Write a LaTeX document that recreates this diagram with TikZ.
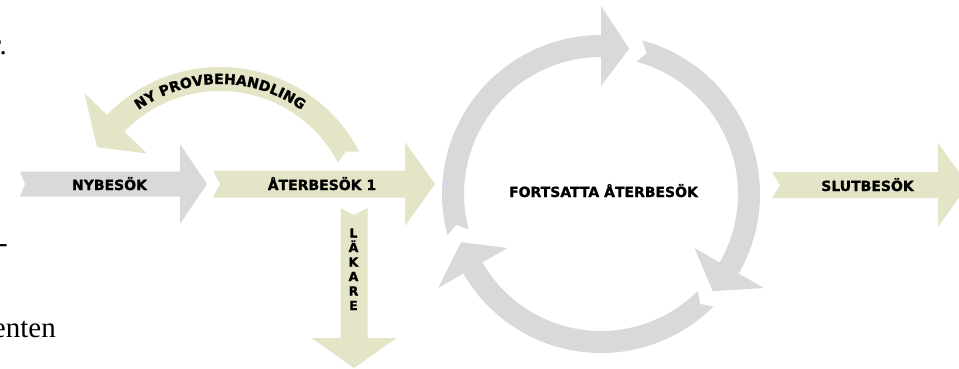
\documentclass[tikz,border=0pt]{standalone}
\usepackage{fontspec}
\setmainfont{Liberation Serif}
\newfontfamily\lblfont{DejaVu Sans}[BoldFeatures={FakeBold=1.3}]
\usetikzlibrary{decorations.text}
\definecolor{beige}{RGB}{228,228,199}
\definecolor{lgray}{RGB}{217,217,217}
% horizontal block arrow: x0 xnotch xheadbase xtip yc bodyhalf headhalf style
\newcommand{\hblock}[8]{\fill[#8] (#1,{#5-#6}) -- (#3,{#5-#6}) -- (#3,{#5-#7}) -- (#4,#5) -- (#3,{#5+#7}) -- (#3,{#5+#6}) -- (#1,{#5+#6}) -- (#2,#5) -- cycle;}
% vertical block arrow: y0 ynotch yheadbase ytip xc bodyhalf headhalf style
\newcommand{\vblock}[8]{\fill[#8] ({#5-#6},#1) -- ({#5-#6},#3) -- ({#5-#7},#3) -- (#5,#4) -- ({#5+#7},#3) -- ({#5+#6},#3) -- ({#5+#6},#1) -- (#5,#2) -- cycle;}
\begin{document}
\begin{tikzpicture}[x=1pt,y=-1pt,
  lbl/.style={font=\lblfont\bfseries\fontsize{14}{16}\selectfont, inner sep=0pt, anchor=base},
  smalllbl/.style={font=\lblfont\bfseries\fontsize{12.5}{14}\selectfont, inner sep=0pt, anchor=base},
  pagetext/.style={font=\fontsize{29}{32}\selectfont, inner sep=0pt, anchor=base east}]
\useasboundingbox (0,0) rectangle (959,369);
\clip (0,0) rectangle (959,369);
\fill[white] (0,0) rectangle (959,369);

% straight arrows
\hblock{20}{25}{180}{207}{184}{12.5}{40}{lgray}
\hblock{213}{220}{405}{435}{184}{13.5}{42}{beige}
\hblock{772}{780}{938}{968}{185}{13}{42}{beige}
\vblock{208}{215}{338}{368}{354}{13.5}{42.5}{beige}

% curved arrow: NY PROVBEHANDLING
\begin{scope}[shift={(220,224)}]
  \fill[beige] (-27.5:157) arc[start angle=-27.5, end angle=-136, radius=157]
     -- (-136:188.5) -- (-148:145) -- (-136:101.5) -- (-136:133)
     arc[start angle=-136, end angle=-27.5, radius=133] -- (-30:145) -- cycle;
  \path[decorate, decoration={text along path,
      text={|\lblfont\bfseries\fontsize{14}{16}\selectfont|NY PROVBEHANDLING},
      text align=center}]
     (-150:140) arc[start angle=-150, end angle=-30, radius=140];
\end{scope}

% cycle of three arrows
\begin{scope}[shift={(601,194)}]
  \foreach \k in {0,1,2}{
    \pgfmathsetmacro\T{-195+120*\k}
    \pgfmathsetmacro\H{-90+120*\k}
    \pgfmathsetmacro\P{-79+120*\k}
    \pgfmathsetmacro\N{-192+120*\k}
    \fill[lgray] (\T:159) arc[start angle=\T, end angle=\H, radius=159]
      -- (\H:188) -- (\P:148) -- (\H:108) -- (\H:137)
      arc[start angle=\H, end angle=\T, radius=137] -- (\N:148) -- cycle;
  }
\end{scope}

% labels
\node[lbl] (nyb) at (109.5,190) {NYBESÖK};
\node[lbl] (ater1) at (322,190) {ÅTERBESÖK 1};
\node[lbl] (fort) at (603.5,197) {FORTSATTA ÅTERBESÖK};
\node[lbl] (slut) at (867.5,191) {SLUTBESÖK};
\foreach \l [count=\i] in {L,Ä,K,A,R,E}{
  \node[smalllbl] (lk\i) at (353.5,{237.5+14.5*(\i-1)}) {\l};
}

% page text fragments at left edge
\node[pagetext] (frag1) at (7,55) {r.};
\node[pagetext] (frag2) at (8,252) {-};
\node[pagetext] (frag3) at (56,337) {enten};
\end{tikzpicture}
\end{document}
